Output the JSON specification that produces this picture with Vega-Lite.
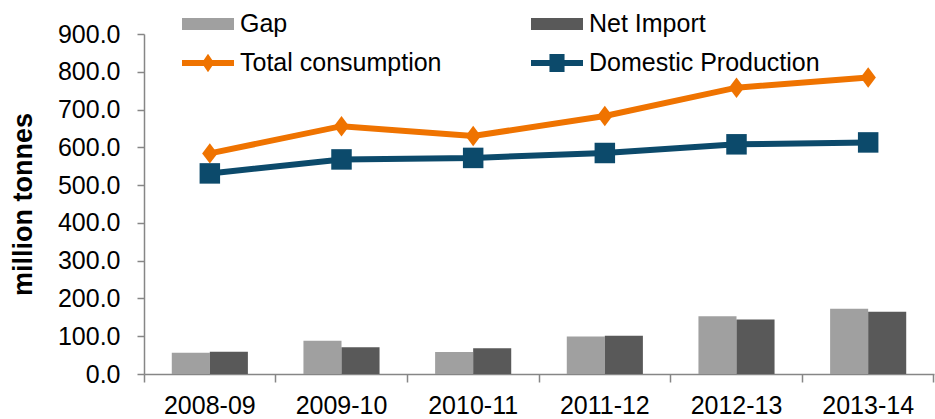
{
  "$schema": "https://vega.github.io/schema/vega-lite/v6.json",
  "width": 790,
  "height": 340,
  "autosize": {"type": "none"},
  "padding": {"left": 144, "top": 34, "right": 1, "bottom": 45},
  "config": {
    "font": "Liberation Sans",
    "view": {"stroke": null},
    "axis": {"grid": false, "labelColor": "#000000", "labelFontSize": 25, "domainColor": "#868686", "tickColor": "#868686", "domainWidth": 1.5, "tickWidth": 1.5}
  },
  "data": {
    "values": [
      {"year": "2008-09", "series": "Gap", "value": 56},
      {"year": "2009-10", "series": "Gap", "value": 88},
      {"year": "2010-11", "series": "Gap", "value": 58},
      {"year": "2011-12", "series": "Gap", "value": 99},
      {"year": "2012-13", "series": "Gap", "value": 153},
      {"year": "2013-14", "series": "Gap", "value": 173},
      {"year": "2008-09", "series": "Net Import", "value": 59},
      {"year": "2009-10", "series": "Net Import", "value": 71},
      {"year": "2010-11", "series": "Net Import", "value": 68},
      {"year": "2011-12", "series": "Net Import", "value": 101},
      {"year": "2012-13", "series": "Net Import", "value": 144},
      {"year": "2013-14", "series": "Net Import", "value": 165},
      {"year": "2008-09", "series": "Total consumption", "value": 584},
      {"year": "2009-10", "series": "Total consumption", "value": 656},
      {"year": "2010-11", "series": "Total consumption", "value": 630},
      {"year": "2011-12", "series": "Total consumption", "value": 683},
      {"year": "2012-13", "series": "Total consumption", "value": 758},
      {"year": "2013-14", "series": "Total consumption", "value": 785},
      {"year": "2008-09", "series": "Domestic Production", "value": 531},
      {"year": "2009-10", "series": "Domestic Production", "value": 568},
      {"year": "2010-11", "series": "Domestic Production", "value": 572},
      {"year": "2011-12", "series": "Domestic Production", "value": 585},
      {"year": "2012-13", "series": "Domestic Production", "value": 608},
      {"year": "2013-14", "series": "Domestic Production", "value": 613}
    ]
  },
  "encoding": {
    "x": {
      "field": "year", "type": "nominal", "title": null,
      "scale": {"paddingInner": 0, "paddingOuter": 0},
      "axis": {"labelAngle": 0, "bandPosition": 1, "tickExtra": true, "tickSize": 8, "labelPadding": 11}
    },
    "y": {
      "field": "value", "type": "quantitative",
      "scale": {"domain": [0, 900], "nice": false},
      "axis": {"values": [0, 100, 200, 300, 400, 500, 600, 700, 800, 900], "format": ".1f", "tickSize": 7, "labelPadding": 17, "title": "million tonnes", "titleFontSize": 27, "titleFontWeight": "bold", "titleColor": "#000000", "titlePadding": 20}
    },
    "color": {
      "field": "series", "type": "nominal",
      "scale": {"domain": ["Gap", "Total consumption", "Net Import", "Domestic Production"], "range": ["#a0a0a0", "#ef7300", "#595959", "#0c4a6b"]},
      "legend": {
        "title": null, "orient": "none", "legendX": 38, "legendY": -36, "columns": 2, "columnPadding": 89, "rowPadding": -12, "padding": 0,
        "labelFontSize": 25, "labelColor": "#000000", "labelLimit": 400, "labelOffset": 6, "symbolSize": 2704,
        "encode": {
          "symbols": {
            "update": {
              "shape": {"signal": "datum.value === 'Total consumption' ? 'M-1,-0.115H1V0.115H-1Z M0,-0.36L0.24,0L0,0.36L-0.24,0Z' : datum.value === 'Domestic Production' ? 'M-1,-0.115H1V0.115H-1Z M-0.29,-0.35H0.29V0.35H-0.29Z' : 'M-1,-0.23H1V0.23H-1Z'"},
              "size": {"value": 2704},
              "fill": {"scale": "color", "field": "value"},
              "stroke": {"value": "transparent"},
              "strokeWidth": {"value": 0},
              "opacity": {"value": 1},
              "fillOpacity": {"value": 1}
            }
          }
        }
      }
    }
  },
  "layer": [
    {
      "transform": [{"filter": {"field": "series", "oneOf": ["Gap", "Net Import"]}}],
      "mark": {"type": "bar"},
      "encoding": {
        "xOffset": {"field": "series", "type": "nominal", "scale": {"domain": ["Gap", "Net Import"], "paddingInner": 0, "paddingOuter": 0.73}}
      }
    },
    {
      "transform": [{"filter": {"field": "series", "oneOf": ["Total consumption", "Domestic Production"]}}],
      "mark": {"type": "line", "strokeWidth": 6},
      "encoding": {}
    },
    {
      "transform": [{"filter": {"field": "series", "oneOf": ["Total consumption", "Domestic Production"]}}],
      "mark": {"type": "point", "filled": true, "size": 420, "opacity": 1},
      "encoding": {
        "shape": {"field": "series", "type": "nominal", "scale": {"domain": ["Total consumption", "Domestic Production"], "range": ["M0,-1L0.75,0L0,1L-0.75,0Z", "square"]}, "legend": null}
      }
    }
  ]
}
